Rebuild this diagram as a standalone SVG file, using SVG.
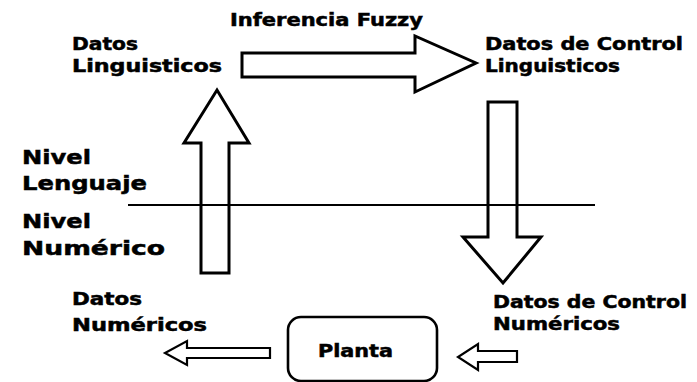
<svg xmlns="http://www.w3.org/2000/svg" width="697" height="382" viewBox="0 0 697 382">
  <style>
    .lbl { font-family: "DejaVu Sans", "Liberation Sans", sans-serif; font-weight: bold; font-size: 17px; fill: #000; stroke: #000; stroke-width: 0.5; }
    .lvl { font-size: 20px; }
    .big { fill: #fff; stroke: #000; stroke-width: 3; stroke-linejoin: miter; }
    .small { fill: #fff; stroke: #000; stroke-width: 2.2; stroke-linejoin: miter; }
    .sep { stroke: #000; stroke-width: 2; }
    .box { fill: #fff; stroke: #000; stroke-width: 2.6; }
  </style>
  <rect width="697" height="382" fill="#fff"/>

  <g id="connectors">
    <!-- fuzzy inference: linguistic data -> linguistic control data -->
    <polygon class="big" points="242,53 415,53 415,36 476,63 415,92 415,77 242,77"/>
    <!-- numeric data up to linguistic level -->
    <polygon class="big" points="201,273 229,273 229,143 249,143 217,90 184,143 201,143"/>
    <!-- linguistic control down to numeric level -->
    <polygon class="big" points="488,102 517,102 517,237 541,237 503,283 463,237 488,237"/>
    <!-- plant output -->
    <polygon class="small" points="270,348 270,358 187,358 187,365 165,353 187,341 187,348"/>
    <!-- control input to plant -->
    <polygon class="small" points="517,351 517,362 478,362 478,370 458,357 478,344 478,351"/>
    <!-- boundary between language level and numeric level -->
    <line class="sep" x1="128" y1="205" x2="595" y2="205"/>
  </g>

  <g id="title-inferencia">
    <text class="lbl" x="230" y="26" textLength="193" lengthAdjust="spacingAndGlyphs">Inferencia Fuzzy</text>
  </g>
  <g id="datos-linguisticos">
    <text class="lbl" x="72" y="50" textLength="66" lengthAdjust="spacingAndGlyphs">Datos</text>
    <text class="lbl" x="72" y="72" textLength="150" lengthAdjust="spacingAndGlyphs">Linguisticos</text>
  </g>
  <g id="control-linguisticos">
    <text class="lbl" x="485" y="50" textLength="198" lengthAdjust="spacingAndGlyphs">Datos de Control</text>
    <text class="lbl" x="485" y="72" textLength="135" lengthAdjust="spacingAndGlyphs">Linguisticos</text>
  </g>
  <g id="nivel-lenguaje">
    <text class="lbl lvl" x="22" y="164" textLength="69" lengthAdjust="spacingAndGlyphs">Nivel</text>
    <text class="lbl lvl" x="22" y="190" textLength="125" lengthAdjust="spacingAndGlyphs">Lenguaje</text>
  </g>
  <g id="nivel-numerico">
    <text class="lbl lvl" x="22" y="228" textLength="69" lengthAdjust="spacingAndGlyphs">Nivel</text>
    <text class="lbl lvl" x="22" y="255" textLength="143" lengthAdjust="spacingAndGlyphs">Numérico</text>
  </g>
  <g id="datos-numericos">
    <text class="lbl" x="72" y="305" textLength="70" lengthAdjust="spacingAndGlyphs">Datos</text>
    <text class="lbl" x="72" y="331" textLength="135" lengthAdjust="spacingAndGlyphs">Numéricos</text>
  </g>
  <g id="control-numericos">
    <text class="lbl" x="493" y="308" textLength="194" lengthAdjust="spacingAndGlyphs">Datos de Control</text>
    <text class="lbl" x="493" y="330" textLength="127" lengthAdjust="spacingAndGlyphs">Numéricos</text>
  </g>
  <g id="planta">
    <rect class="box" x="288" y="317" width="149" height="64" rx="13"/>
    <text class="lbl" x="318" y="357" font-size="19" textLength="75" lengthAdjust="spacingAndGlyphs">Planta</text>
  </g>
</svg>
